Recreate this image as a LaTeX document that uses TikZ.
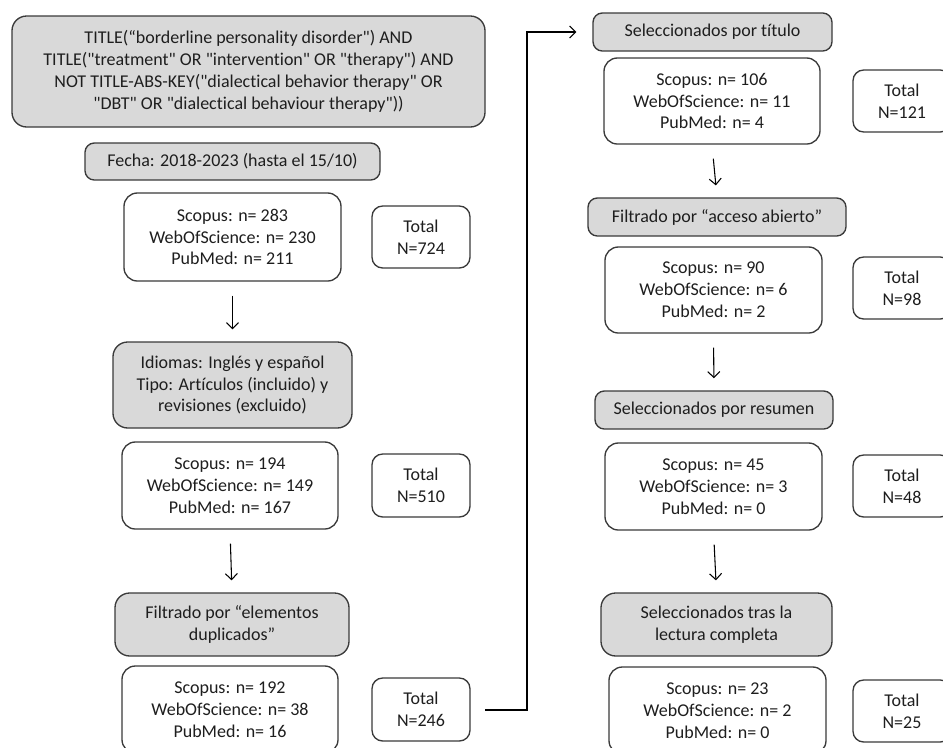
\documentclass[tikz,border=0pt]{standalone}
\usepackage{fontspec}
\setmainfont{Carlito}[Ligatures={TeXOff,NoCommon}]
\usetikzlibrary{arrows.meta}
\definecolor{boxgray}{HTML}{D9D9D9}
\definecolor{edgec}{HTML}{3A3A3A}
\definecolor{txt}{HTML}{1E1E1E}
\newcommand\pbox[7]{\node[#6, minimum width={(#4-#2)*0.75pt}, minimum height={(#5-#3)*0.75pt}] (#1) at ({(#2+#4)/2},{(#3+#5)/2}) {#7};}
\begin{document}
\begin{tikzpicture}[x=0.75pt,y=-0.75pt,
  base/.style={draw=edgec, line width=1pt, align=center, inner sep=0pt, text=txt,
    font=\fontsize{13.5}{16.4}\selectfont},
  graybox/.style={base, fill=boxgray, rounded corners=7pt},
  bigray/.style={base, fill=boxgray, rounded corners=11pt},
  whitebox/.style={base, fill=white, rounded corners=10pt},
  totbox/.style={base, fill=white, rounded corners=8pt},
  flow/.style={draw=black, line width=0.8pt, -{Straight Barb[length=4.5pt,width=9pt]}},
  down/.style={flow, shorten <=10.5pt, shorten >=9pt}
]
\useasboundingbox (0,0) rectangle (943,747);
% left column
\pbox{q}{12}{16}{485}{127}{bigray}{TITLE(“borderline personality disorder") AND\\TITLE("treatment" OR "intervention" OR "therapy") AND\\NOT TITLE-ABS-KEY("dialectical behavior therapy" OR\\"DBT" OR "dialectical behaviour therapy"))}
\pbox{fecha}{85}{143}{380}{180}{graybox}{Fecha: 2018-2023 (hasta el 15/10)}
\pbox{s1}{124}{193}{341}{281}{whitebox}{Scopus: n= 283\\WebOfScience: n= 230\\PubMed: n= 211}
\pbox{t1}{372}{206}{470}{268}{totbox}{Total\\N=724}
\pbox{idi}{113}{342}{352}{428}{bigray}{Idiomas: Inglés y español\\Tipo: Artículos (incluido) y\\revisiones (excluido)}
\pbox{s2}{122}{442}{338}{529}{whitebox}{Scopus: n= 194\\WebOfScience: n= 149\\PubMed: n= 167}
\pbox{t2}{372}{454}{470}{517}{totbox}{Total\\N=510}
\pbox{dup}{115}{593}{349}{656}{bigray}{Filtrado por “elementos\\duplicados”}
\pbox{s3}{122}{666}{338}{753}{whitebox}{Scopus: n= 192\\WebOfScience: n= 38\\PubMed: n= 16}
\pbox{t3}{372}{678}{470}{741}{totbox}{Total\\N=246}
% right column
\pbox{tit}{593}{13}{832}{51}{graybox}{Seleccionados por título}
\pbox{s4}{604}{58}{820}{144}{whitebox}{Scopus: n= 106\\WebOfScience: n= 11\\PubMed: n= 4}
\pbox{t4}{853}{70}{951}{132}{totbox}{Total\\N=121}
\pbox{acc}{588}{198}{846}{236}{graybox}{Filtrado por “acceso abierto”}
\pbox{s5}{605}{247}{822}{333}{whitebox}{Scopus: n= 90\\WebOfScience: n= 6\\PubMed: n= 2}
\pbox{t5}{853}{257}{951}{319}{totbox}{Total\\N=98}
\pbox{res}{595}{391}{833}{429}{graybox}{Seleccionados por resumen}
\pbox{s6}{605}{443}{822}{530}{whitebox}{Scopus: n= 45\\WebOfScience: n= 3\\PubMed: n= 0}
\pbox{t6}{853}{455}{951}{517}{totbox}{Total\\N=48}
\pbox{lec}{601}{593}{832}{656}{bigray}{Seleccionados tras la\\lectura completa}
\pbox{s7}{609}{667}{826}{754}{whitebox}{Scopus: n= 23\\WebOfScience: n= 2\\PubMed: n= 0}
\pbox{t7}{853}{680}{951}{742}{totbox}{Total\\N=25}
% connectors
\draw[down] (s1.south) -- (idi.north);
\draw[down] (s2.south) -- (dup.north);
\draw[down] (s4.south) -- (acc.north);
\draw[down] (s5.south) -- (res.north);
\draw[down] (s6.south) -- (lec.north);
\coordinate (turn) at (527,710);
\draw[flow, shorten <=11pt, shorten >=12pt] (t3.east |- turn) -- (turn) |- (tit.west);
\end{tikzpicture}
\end{document}
